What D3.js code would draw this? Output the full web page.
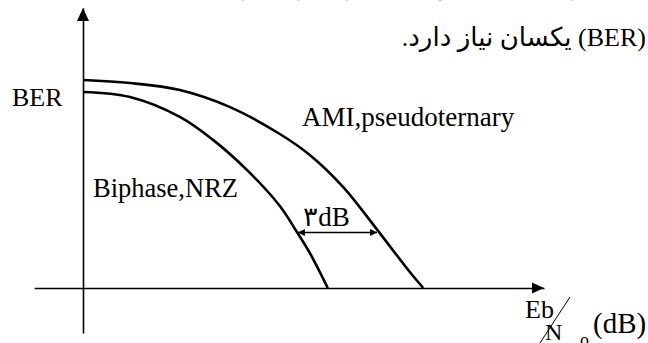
<!DOCTYPE html>
<html>
<head>
<meta charset="utf-8">
<script src="https://cdn.jsdelivr.net/npm/d3@7"></script>
<style>
   html, body { margin:0; padding:0; background:#fff; }
   svg { display:block; }
   text { font-family: "Liberation Serif", "DejaVu Serif", serif; fill:#000; }
   .fa { font-family: "Liberation Serif", "DejaVu Sans", sans-serif; }
</style>
</head>
<body>
<svg id="chart"></svg>
<script>
// curve samples, Eb/No (arbitrary dB units) vs BER (arbitrary units)
const amiEbNo = [0, 10.2, 21.0, 31.9, 42.7, 49.2, 56.4, 64.0, 70.9, 73.8];
const amiBER  = [74.3, 73.2, 70.7, 64.6, 55.0, 47.5, 36.1, 20.4, 5.7, 0];
const biEbNo  = [0, 10.2, 21.0, 28.2, 35.6, 42.7, 46.4, 49.2, 53.1];
const biBER   = [70.0, 68.2, 61.1, 52.9, 42.1, 29.3, 20.0, 12.5, 0];

// the 3dB gap between the two curves
const gapEbNo = [46.4, 64.0];
const gapBER = 19.8;

// axis extents (below/left of origin)
const xAxisExtent = [-10.6, 100];
const yAxisExtent = [-16.1, 100];

const labels = {
   ami: "AMI,pseudoternary",
   bi: "Biphase,NRZ",
   ber: "BER",
   gap: "۳dB"
};
const textTop = "عملکرد، سیگنال توان بیشتری برای نرخ خطای بیت";
const textLine = "(BER) یکسان نیاز دارد.";

const width = 648, height = 343;

const svg = d3.select("#chart")
   .attr("width", width)
   .attr("height", height);

const x = d3.scaleLinear().domain([0, 100]).range([83, 544]);
const y = d3.scaleLinear().domain([0, 100]).range([288, 8]);

// markers for the 3dB double arrow
const defs = svg.append("defs");
defs.append("marker")
   .attr("id", "head")
   .attr("viewBox", "0 0 10 10")
   .attr("refX", 10).attr("refY", 5)
   .attr("markerWidth", 8).attr("markerHeight", 7)
   .attr("markerUnits", "userSpaceOnUse")
   .attr("orient", "auto-start-reverse")
   .append("path")
      .attr("d", "M0,0L10,5L0,10Z")
      .attr("fill", "#000");

// x axis
const xa = d3.scaleLinear().domain(xAxisExtent).range([x(xAxisExtent[0]), x(xAxisExtent[1])]);
svg.append("g")
   .attr("transform", `translate(0,${y(0)})`)
   .call(d3.axisBottom(xa).tickValues([]).tickSizeOuter(0))
   .call(g => g.select(".domain").attr("stroke-width", 1.6));

// y axis
const ya = d3.scaleLinear().domain(yAxisExtent).range([y(yAxisExtent[0]), y(yAxisExtent[1])]);
svg.append("g")
   .attr("transform", `translate(${x(0)},0)`)
   .call(d3.axisLeft(ya).tickValues([]).tickSizeOuter(0))
   .call(g => g.select(".domain").attr("stroke-width", 1.6));

// arrow heads on axes
const xt = x(xAxisExtent[1]), yt = y(yAxisExtent[1]);
svg.append("path")
   .attr("d", `M${xt},${y(0)}L${xt-12},${y(0)-5.5}L${xt-12},${y(0)+5.5}Z`)
   .attr("fill", "#000");
svg.append("path")
   .attr("d", `M${x(0)},${yt}L${x(0)-6},${yt+13}L${x(0)+6},${yt+13}Z`)
   .attr("fill", "#000");

// curves
const line = d3.line()
   .x(d => x(d[0]))
   .y(d => y(d[1]))
   .curve(d3.curveCatmullRom.alpha(0.5));

const series = [
   d3.zip(amiEbNo, amiBER),
   d3.zip(biEbNo, biBER)
];

svg.append("g")
   .selectAll("path")
   .data(series)
   .enter().append("path")
      .attr("d", line)
      .attr("fill", "none")
      .attr("stroke", "#000")
      .attr("stroke-width", 2.6);

// 3dB arrow
svg.append("line")
   .attr("x1", x(gapEbNo[0]) + 1)
   .attr("x2", x(gapEbNo[1]) - 1)
   .attr("y1", y(gapBER))
   .attr("y2", y(gapBER))
   .attr("stroke", "#000")
   .attr("stroke-width", 1.4)
   .attr("marker-start", "url(#head)")
   .attr("marker-end", "url(#head)");

svg.append("text")
   .attr("x", (x(gapEbNo[0]) + x(gapEbNo[1])) / 2 - 11)
   .attr("y", y(gapBER) - 7)
   .attr("text-anchor", "middle")
   .attr("font-size", 27)
   .text(labels.gap);

// labels
svg.append("text").attr("x", 12).attr("y", 106).attr("font-size", 26).text(labels.ber);
svg.append("text").attr("x", 302).attr("y", 126).attr("font-size", 27).text(labels.ami);
svg.append("text").attr("x", 93).attr("y", 197).attr("font-size", 26.5).text(labels.bi);

// x axis title: Eb/No (dB)
svg.append("text").attr("x", 525).attr("y", 318).attr("font-size", 26).text("Eb");
svg.append("line")
   .attr("x1", 570).attr("y1", 297)
   .attr("x2", 540).attr("y2", 343)
   .attr("stroke", "#000").attr("stroke-width", 1);
svg.append("text").attr("x", 545).attr("y", 340).attr("font-size", 24).text("N");
svg.append("text").attr("x", 580).attr("y", 346).attr("font-size", 18).text("o");
svg.append("text").attr("x", 593).attr("y", 333).attr("font-size", 29).text("(dB)");

// persian text above the chart
svg.append("text")
   .attr("class", "fa")
   .attr("x", 640).attr("y", -6)
   .attr("direction", "rtl")
   .attr("text-anchor", "start")
   .attr("font-size", 26)
   .text(textTop);
svg.append("text")
   .attr("class", "fa")
   .attr("x", 646).attr("y", 46)
   .attr("direction", "rtl")
   .attr("text-anchor", "start")
   .attr("font-size", 26)
   .text(textLine);
</script>
</body>
</html>
